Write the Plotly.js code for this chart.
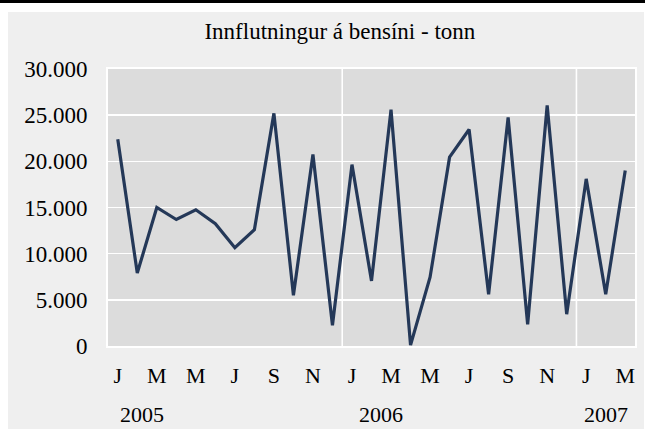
<!DOCTYPE html>
<html>
<head>
<meta charset="utf-8">
<script src="https://cdn.plot.ly/plotly-3.0.1.min.js"></script>
<style>
  html, body { margin: 0; padding: 0; background: #ffffff; width: 645px; height: 429px; overflow: hidden; }
  #topbar { position: absolute; left: 0; top: 0; width: 645px; height: 3px; background: #000000; }
  #chart { position: absolute; left: 8px; top: 12px; width: 636px; height: 417px; }
</style>
</head>
<body>
<div id="topbar"></div>
<div id="chart"></div>
<script>
// ---- data ----
const months = [
  '2005-01','2005-02','2005-03','2005-04','2005-05','2005-06','2005-07','2005-08','2005-09','2005-10','2005-11','2005-12',
  '2006-01','2006-02','2006-03','2006-04','2006-05','2006-06','2006-07','2006-08','2006-09','2006-10','2006-11','2006-12',
  '2007-01','2007-02','2007-03'
];
const tonnes = [
  22400, 7900, 15000, 13700, 14750, 13250, 10650, 12600, 25200, 5500, 20750, 2250,
  19650, 7050, 25600, 100, 7450, 20450, 23450, 5600, 24750, 2350, 26050, 3450,
  18100, 5600, 19000
];
const monthLetters = ['J','M','M','J','S','N','J','M','M','J','S','N','J','M'];
const years = ['2005','2006','2007'];
const chartTitle = 'Innflutningur á bensíni - tonn';

// ---- chart ----
const font = 'Liberation Serif';
const tickIdx = monthLetters.map((_, i) => i * 2);
const yearPos = [1.24, 13.49, 25.0];
const yearBoundaries = [11.5, 23.5];

const trace = {
  type: 'scatter',
  mode: 'lines',
  x: months.map((_, i) => i),
  y: tonnes,
  line: { color: '#243858', width: 3.2 },
  hoverinfo: 'skip'
};

const shapes = yearBoundaries.map(b => ({
  type: 'line', xref: 'x', yref: 'paper', x0: b, x1: b, y0: 0, y1: 1,
  line: { color: '#ffffff', width: 1.6 }, layer: 'below'
}));

const annotations = years.map((yr, i) => ({
  text: yr, xref: 'x', yref: 'paper', x: yearPos[i], y: -0.247,
  xanchor: 'center', yanchor: 'middle', showarrow: false,
  font: { family: font, size: 22, color: '#000000' }
}));

const layout = {
  width: 636, height: 417,
  margin: { l: 100, r: 9, t: 57, b: 83 },
  paper_bgcolor: '#efefef',
  plot_bgcolor: '#dcdcdc',
  separators: ',.',
  showlegend: false,
  font: { family: font, color: '#000000' },
  title: {
    text: chartTitle, x: 0.44, xref: 'paper', xanchor: 'center',
    y: 0.955, yref: 'container', yanchor: 'middle',
    font: { family: font, size: 23, color: '#000000' }
  },
  xaxis: {
    range: [-0.5, months.length - 0.5],
    tickmode: 'array', tickvals: tickIdx, ticktext: monthLetters,
    showgrid: false, zeroline: false,
    showline: true, linecolor: '#ffffff', linewidth: 2, mirror: true,
    ticks: '', ticklabelstandoff: 9,
    tickfont: { family: font, size: 22, color: '#000000' },
    fixedrange: true
  },
  yaxis: {
    range: [0, 30000], dtick: 5000, tick0: 0,
    tickformat: ',d',
    showgrid: true, gridcolor: '#ffffff', gridwidth: 1.6,
    zeroline: false,
    showline: true, linecolor: '#ffffff', linewidth: 2, mirror: true,
    ticks: '', ticklabelstandoff: 14,
    tickfont: { family: font, size: 23, color: '#000000' },
    fixedrange: true
  },
  shapes: shapes,
  annotations: annotations
};

Plotly.newPlot('chart', [trace], layout, { displayModeBar: false, staticPlot: true });
</script>
</body>
</html>
